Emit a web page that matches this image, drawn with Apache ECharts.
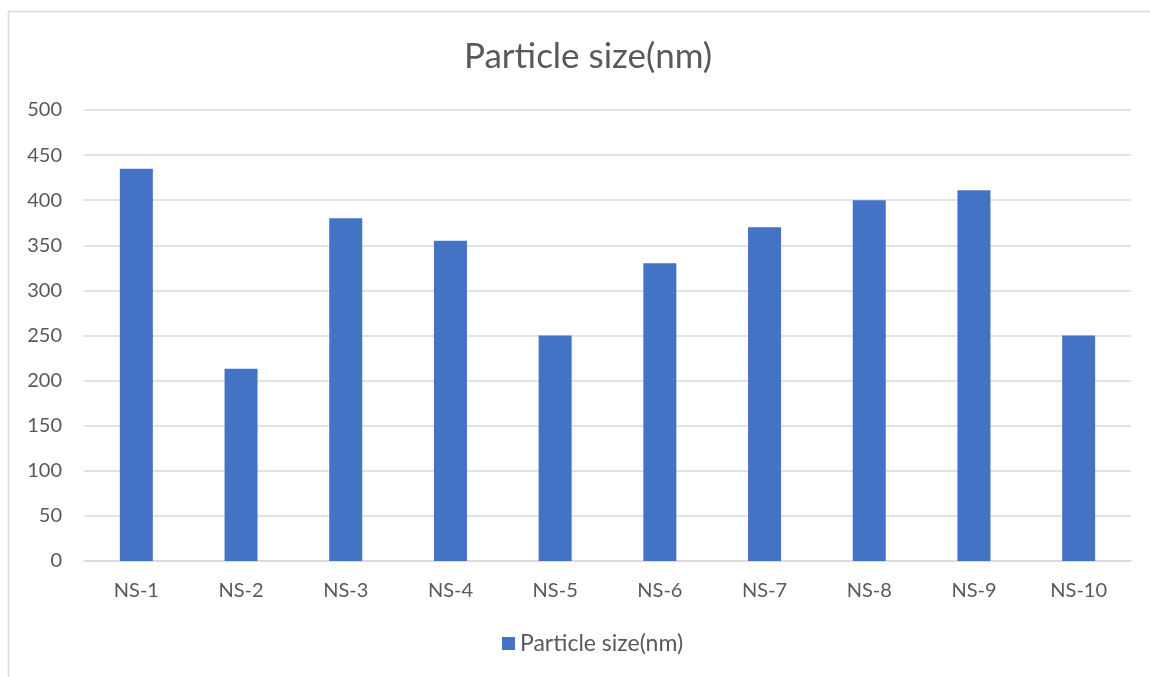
<!DOCTYPE html>
<html>
<head>
<meta charset="utf-8">
<script src="https://cdn.jsdelivr.net/npm/echarts@6/dist/echarts.min.js"></script>
<style>
  html, body { margin: 0; padding: 0; background: #fff; }
  #chart { width: 1150px; height: 677px; }
</style>
</head>
<body>
<div id="chart"></div>
<script>
// Sample names and measured particle sizes (nm)
const categories = ['NS-1', 'NS-2', 'NS-3', 'NS-4', 'NS-5', 'NS-6', 'NS-7', 'NS-8', 'NS-9', 'NS-10'];
const particleSize = [435, 213, 380, 355, 250, 330, 370, 400, 411, 250];
const seriesName = 'Particle size(nm)';
const chartTitle = 'Particle size(nm)';

const textColor = '#595959';
const gridColor = '#d9d9d9';
const fontFamily = 'Lato, Carlito, "Open Sans", sans-serif';

const chart = echarts.init(document.getElementById('chart'), null, { renderer: 'canvas' });
chart.setOption({
  animation: false,
  backgroundColor: '#ffffff',
  textStyle: { fontFamily: fontFamily },
  graphic: [{
    // chart-area frame
    type: 'rect',
    shape: { x: 8.5, y: 11.5, width: 1200, height: 700 },
    style: { fill: 'none', stroke: gridColor, lineWidth: 1.5 },
    silent: true,
    z: -1
  }],
  title: {
    text: chartTitle,
    left: 459,
    top: 34,
    textStyle: { color: textColor, fontSize: 35, fontWeight: 'normal', fontFamily: fontFamily }
  },
  legend: {
    data: [seriesName],
    bottom: 17,
    left: 497,
    itemWidth: 13,
    itemHeight: 13,
    icon: 'rect',
    itemGap: 6,
    textStyle: { color: textColor, fontSize: 23, fontFamily: fontFamily }
  },
  grid: { left: 84, right: 19, top: 110, bottom: 116, containLabel: false },
  xAxis: {
    type: 'category',
    data: categories,
    axisLine: { lineStyle: { color: gridColor, width: 1.5 } },
    axisTick: { show: false },
    axisLabel: { color: textColor, fontSize: 20, margin: 20, fontFamily: fontFamily }
  },
  yAxis: {
    type: 'value',
    min: 0,
    max: 500,
    interval: 50,
    axisLine: { show: false },
    axisTick: { show: false },
    axisLabel: { color: textColor, fontSize: 20, margin: 22, fontFamily: fontFamily },
    splitLine: { lineStyle: { color: gridColor, width: 1.5 } }
  },
  series: [{
    name: seriesName,
    type: 'bar',
    data: particleSize,
    barWidth: 33,
    itemStyle: { color: '#4472c4' }
  }]
});
</script>
</body>
</html>
